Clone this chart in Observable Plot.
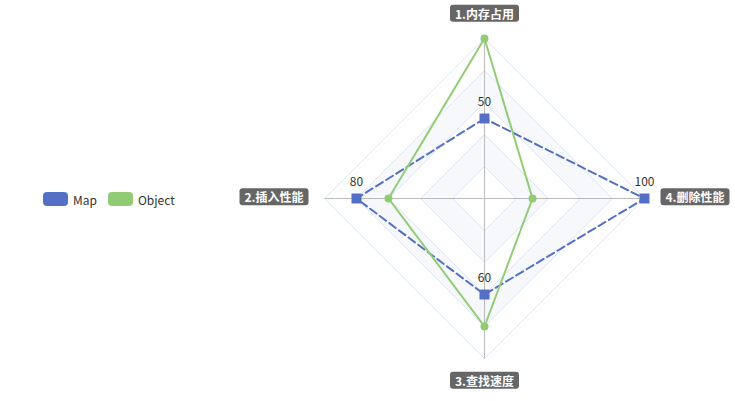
<!DOCTYPE html>
<html>
<head>
<meta charset="utf-8">
<script src="https://cdn.jsdelivr.net/npm/d3@7"></script>
<script src="https://cdn.jsdelivr.net/npm/@observablehq/plot@0.6"></script>
<style>
  html, body { margin: 0; padding: 0; background: #fff; }
  #wrap { position: relative; width: 735px; height: 401px; font-family: "Noto Sans CJK SC", "Noto Sans", sans-serif; }
  #legend { position: absolute; left: 43px; top: 191px; height: 16px; display: flex; align-items: center; font-size: 12px; color: #333; }
  .item { display: flex; align-items: center; margin-right: 11px; }
  .swatch { width: 25px; height: 14px; border-radius: 4px; margin-right: 5px; }
</style>
</head>
<body>
<div id="wrap"><div id="legend"></div></div>
<script>
// ---- data ----
const indicators = ["1.内存占用", "2.插入性能", "3.查找速度", "4.删除性能"];
const indicatorMax = [100, 100, 100, 100];
const seriesNames = ["Map", "Object"];
const mapValues = [50, 80, 60, 100];
const objectValues = [100, 60, 80, 30];
const seriesColors = ["#5470c6", "#91cc75"];
const splitNumber = 5;

// ---- geometry helpers (data space: radius 100 = outer ring) ----
const angleOf = i => Math.PI / 2 + i * 2 * Math.PI / indicators.length;
const polar = (i, r) => ({x: r * Math.cos(angleOf(i)), y: r * Math.sin(angleOf(i))});
const closed = pts => [...pts, pts[0]];

const seriesPoints = (values) => values.map((v, i) => ({...polar(i, v / indicatorMax[i] * 100), value: v}));
const mapPts = seriesPoints(mapValues);
const objPts = seriesPoints(objectValues);

const rings = d3.range(splitNumber, 0, -1).map(k => ({
  k,
  pts: closed(indicators.map((_, i) => polar(i, k * 100 / splitNumber)))
}));
const spokes = indicators.map((_, i) => ({...polar(i, 100), x0: 0, y0: 0}));

const cx = 484, cy = 198, R = 160;
const unitPx = R / 100;
const nameOffset = 100 + 23.5 / unitPx;   // top/bottom label centre
const sideOffset = 100 + 21 / unitPx;     // left/right label edge
const names = indicators.map((name, i) => {
  const horiz = Math.abs(Math.cos(angleOf(i))) > 0.5;
  const p = polar(i, horiz ? sideOffset : nameOffset);
  const c = Math.cos(angleOf(i));
  return {...p, name, anchor: !horiz ? "middle" : (c < 0 ? "end" : "start")};
});

const bandFill = ["#ffffff", "#f6f8fc"];

const marks = [];
rings.forEach(r => {
  marks.push(Plot.line(r.pts, {x: "x", y: "y", fill: bandFill[(r.k - 1) % 2], stroke: "#E0E6F1", strokeWidth: 1}));
});
marks.push(Plot.link(spokes, {x1: "x0", y1: "y0", x2: "x", y2: "y", stroke: "#bbb", strokeWidth: 1}));
// Map series (dashed)
marks.push(Plot.line(closed(mapPts), {x: "x", y: "y", stroke: seriesColors[0], strokeWidth: 2, strokeDasharray: "8,4"}));
marks.push(Plot.dot(mapPts, {x: "x", y: "y", symbol: "square", r: 5.64, fill: seriesColors[0], stroke: null}));
// Object series
marks.push(Plot.line(closed(objPts), {x: "x", y: "y", stroke: seriesColors[1], strokeWidth: 2}));
marks.push(Plot.dot(objPts, {x: "x", y: "y", r: 4, fill: seriesColors[1], stroke: null}));
// value labels (Map)
marks.push(Plot.text(mapPts, {x: "x", y: "y", text: d => String(d.value), dy: -16, fill: "#333", fontSize: 12}));
// axis names
["middle", "end", "start"].forEach(a => {
  marks.push(Plot.text(names.filter(d => d.anchor === a), {
    x: "x", y: "y", text: "name", textAnchor: a, lineAnchor: "middle",
    fill: "#fff", fontSize: 12, fontWeight: "bold"
  }));
});

const chart = Plot.plot({
  width: 735,
  height: 401,
  margin: 0,
  x: {domain: [-100, 100], range: [cx - R, cx + R], axis: null},
  y: {domain: [-100, 100], range: [cy + R, cy - R], axis: null},
  style: {fontFamily: '"Noto Sans CJK SC", "Noto Sans", sans-serif', fontSize: "12px", background: "transparent"},
  marks
});
const wrap = document.getElementById("wrap");
wrap.insertBefore(chart, wrap.firstChild);

// rounded dark backgrounds behind axis names
Array.from(chart.querySelectorAll("text"))
  .filter(t => indicators.includes(t.textContent))
  .forEach(t => {
    const b = t.getBBox();
    const midY = b.y + b.height / 2;
    const rect = document.createElementNS("http://www.w3.org/2000/svg", "rect");
    rect.setAttribute("x", b.x - 5);
    rect.setAttribute("y", midY - 8.5);
    rect.setAttribute("width", b.width + 10);
    rect.setAttribute("height", 17);
    rect.setAttribute("rx", 3);
    rect.setAttribute("fill", "#666");
    if (t.getAttribute("transform")) rect.setAttribute("transform", t.getAttribute("transform"));
    t.parentNode.insertBefore(rect, t);
  });

// legend
const legend = document.getElementById("legend");
seriesNames.forEach((n, i) => {
  const it = document.createElement("div");
  it.className = "item";
  it.innerHTML = `<div class="swatch" style="background:${seriesColors[i]}"></div><span>${n}</span>`;
  legend.appendChild(it);
});
</script>
</body>
</html>
